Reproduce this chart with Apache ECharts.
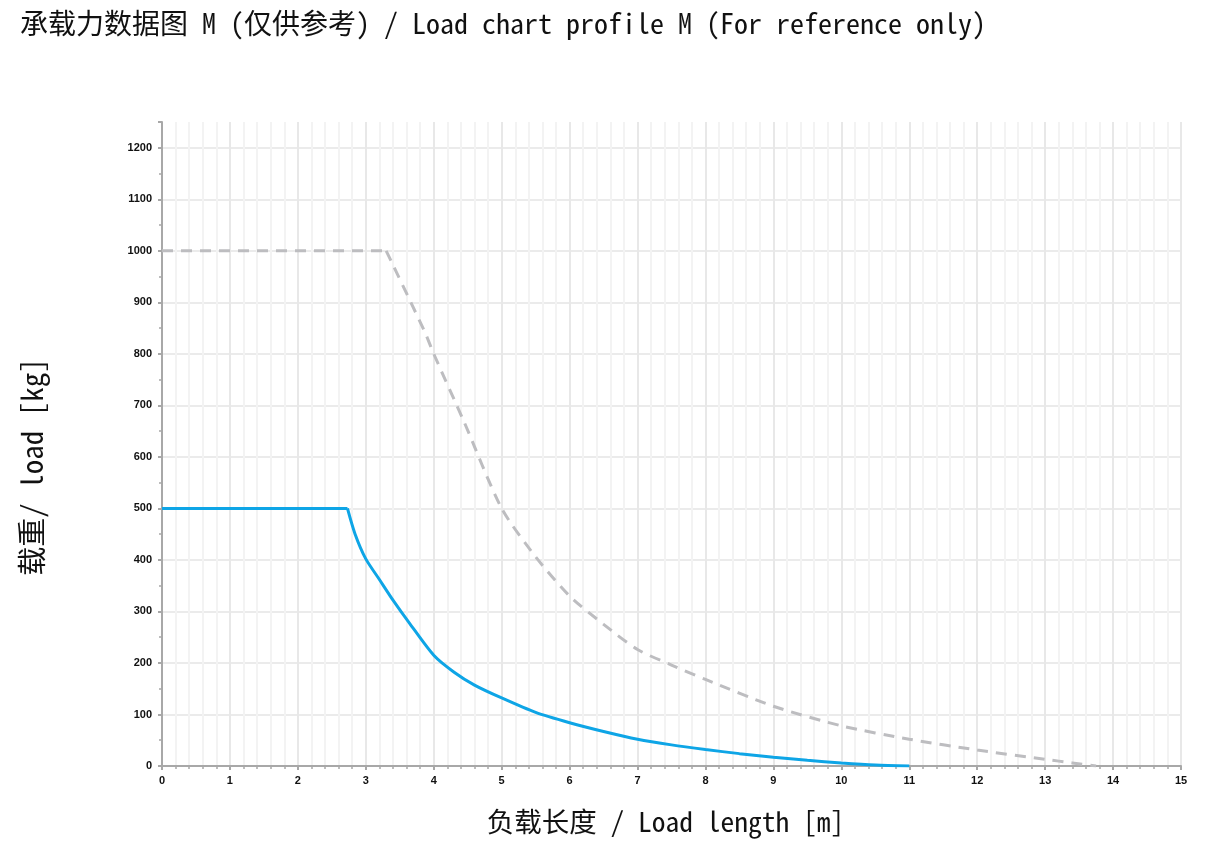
<!DOCTYPE html>
<html>
<head>
<meta charset="utf-8">
<style>
  html, body { margin: 0; padding: 0; background: #fff; }
  #chart { width: 1214px; height: 864px; }
</style>
<script src="https://cdn.jsdelivr.net/npm/echarts@6/dist/echarts.min.js"></script>
</head>
<body>
<div id="chart"></div>
<script>
// Load length [m] and rated load [kg] for profile M
const lengthM = [0, 2.73, 2.84, 3.0, 3.2, 3.4, 3.65, 4.0, 4.3, 4.6, 5.0, 5.5, 6.0, 6.5, 7.0, 7.5, 8.0, 8.5, 9.0, 9.5, 10.0, 10.5, 11.0];
const ratedLoad = [500, 500, 451, 402, 362, 322, 276, 215, 182, 157, 132, 104, 84, 67, 52, 41, 32, 24, 17, 11, 6, 2, 0];

// Reference curve (dashed)
const refLengthM = [0, 3.3, 3.87, 4.0, 4.44, 5.0, 5.5, 6.0, 6.5, 7.0, 7.5, 8.0, 9.0, 10.0, 11.0, 12.0, 13.0, 13.4, 13.75];
const refLoad = [1000, 1000, 842, 800, 670, 500, 406, 330, 275, 226, 196, 168, 116, 78, 52, 31, 13, 6, 0];

const xTicks = [0, 15, 1];      // min, max, interval
const yTicks = [0, 1250, 100];  // min, max, interval

const titleText = '承载力数据图 M (仅供参考) / Load chart profile M (For reference only)';
const xName = '负载长度 / Load length [m]';
const yName = '载重/ load [kg]';

const zip = (xs, ys) => xs.map((x, i) => [x, ys[i]]);
const textFont = '"Noto Sans Mono CJK SC", "Liberation Mono", "Noto Sans CJK SC", monospace';

// one split line per major y tick; the last (at the axis top) is left blank
const yLineCount = Math.floor(yTicks[1] / yTicks[2]) + 2;
const ySplitColors = Array.from({ length: yLineCount }, (_, i) => i === yLineCount - 1 ? 'rgba(0,0,0,0)' : '#ebebeb');

// each curve = a straight plateau followed by a smooth falling part
function curveSeries(name, xs, ys, knee, lineStyle, z) {
  const pts = zip(xs, ys);
  return [
    { name, type: 'line', data: pts.slice(0, knee + 1), showSymbol: false, smooth: false, lineStyle, z },
    { name, type: 'line', data: pts.slice(knee), showSymbol: false, smooth: 0.25, lineStyle, z }
  ];
}

const chart = echarts.init(document.getElementById('chart'), null, { renderer: 'canvas' });
chart.setOption({
  animation: false,
  backgroundColor: '#ffffff',
  title: {
    text: titleText,
    left: 15,
    top: 4,
    textStyle: { fontFamily: textFont, fontSize: 28, fontWeight: 'normal', color: '#111' }
  },
  grid: { left: 162, right: 33, top: 122, bottom: 98, containLabel: false },
  xAxis: {
    type: 'value',
    min: xTicks[0], max: xTicks[1], interval: xTicks[2],
    name: xName,
    nameLocation: 'middle',
    nameGap: 42,
    nameTextStyle: { fontFamily: textFont, fontSize: 27.5, color: '#111', verticalAlign: 'top', padding: [0, 12, 0, 0] },
    axisLine: { show: true, onZero: false, lineStyle: { color: '#a8a8a8', width: 2 } },
    axisTick: { show: true, length: 4, lineStyle: { color: '#a8a8a8', width: 2 } },
    minorTick: { show: true, splitNumber: 5, length: 3, lineStyle: { color: '#a8a8a8', width: 1.5 } },
    axisLabel: { margin: 9, color: '#111', fontFamily: 'Liberation Sans, Arial, sans-serif', fontWeight: 'bold', fontSize: 11 },
    splitLine: { show: true, lineStyle: { color: '#e8e8e8', width: 2 } },
    minorSplitLine: { show: true, lineStyle: { color: '#f3f3f3', width: 2 } }
  },
  yAxis: {
    type: 'value',
    min: yTicks[0], max: yTicks[1], interval: yTicks[2],
    name: yName,
    nameLocation: 'middle',
    nameGap: 116,
    nameRotate: 90,
    nameTextStyle: { fontFamily: textFont, fontSize: 29, color: '#111', padding: [0, 46, 0, 0] },
    axisLine: { show: true, lineStyle: { color: '#a8a8a8', width: 2 } },
    axisTick: { show: true, length: 4, lineStyle: { color: '#a8a8a8', width: 2 } },
    minorTick: { show: true, splitNumber: 2, length: 3, lineStyle: { color: '#a8a8a8', width: 1.5 } },
    axisLabel: {
      margin: 10, showMaxLabel: false, color: '#111',
      fontFamily: 'Liberation Sans, Arial, sans-serif', fontWeight: 'bold', fontSize: 11,
      formatter: (v) => String(v)
    },
    splitLine: { show: true, lineStyle: { color: ySplitColors, width: 2 } },
    minorSplitLine: { show: false }
  },
  series: [
    ...curveSeries('reference', refLengthM, refLoad, 1, { color: '#bdbdc0', width: 3, type: [11, 8] }, 3),
    ...curveSeries('rated', lengthM, ratedLoad, 1, { color: '#0ea5e6', width: 3 }, 4)
  ]
});
</script>
</body>
</html>
